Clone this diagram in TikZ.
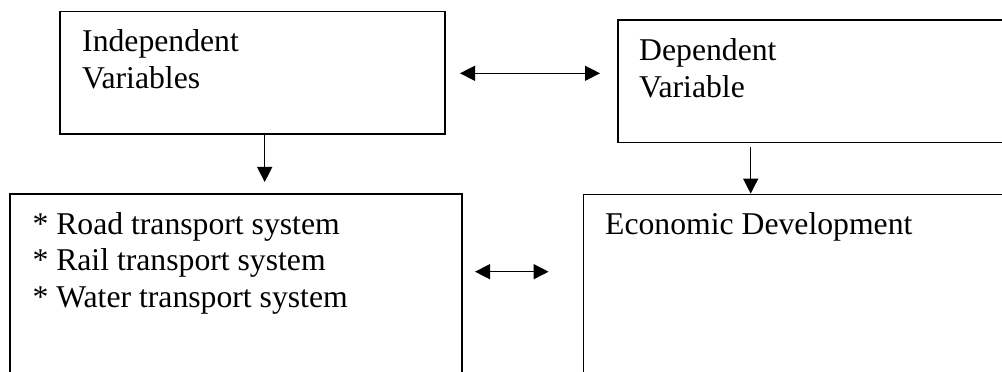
\documentclass[tikz,border=0pt]{standalone}
\usepackage{fontspec}
\setmainfont{Liberation Serif}
\usetikzlibrary{arrows.meta,calc}
\begin{document}
\begin{tikzpicture}[x=1pt,y=1pt,
  box/.style={draw=black,line width=1.4pt,inner sep=0pt,minimum width=#1},
  lbl/.style={inner sep=0pt,anchor=base west,font=\fontsize{31.7}{37}\selectfont},
  arr/.style={line width=1.4pt,-{Triangle[length=15pt,width=15pt]}},
  dbl/.style={line width=1.4pt,{Triangle[length=15pt,width=15pt]}-{Triangle[length=15pt,width=15pt]}}]
\useasboundingbox (0,0) rectangle (1002,372);
\clip (0,0) rectangle (1002,372);
% boxes
\node[box=385pt,minimum height=122.3pt] (A) at (252.5,299.15) {};
\node[box=432pt,minimum height=122.7pt] (B) at (834,290.65) {};
\node[box=452pt,minimum height=218pt] (C) at (236,69) {};
\node[box=466.7pt,minimum height=218pt] (D) at (816.65,68.7) {};
% texts
\node[lbl] (a1) at (82,320.3) {Independent};
\node[lbl] (a2) at (82,283.7) {Variables};
\node[lbl] (b1) at (639,311) {Dependent};
\node[lbl] (b2) at (639,274.3) {Variable};
\node[lbl] (c1) at (32.3,137.7) {* Road transport system};
\node[lbl] (c2) at (32.3,101.3) {* Rail transport system};
\node[lbl] (c3) at (32.3,64.7) {* Water transport system};
\node[lbl] (d1) at (605,137.7) {Economic Development};
% connectors
\draw[arr] ([xshift=12.2pt]A.south) -- ([xshift=28.7pt]C.north |- 0,190);
\draw[arr] ([xshift=-83.3pt,yshift=-4pt]B.south) -- (D.north -| 750.7,0);
\draw[dbl] ([xshift=14.3pt]A.east |- 0,298.7) -- ([xshift=-17.3pt]B.west |- 0,298.7);
\draw[dbl] ([xshift=12.3pt]C.east |- 0,100.3) -- ([xshift=-34pt]D.west |- 0,100.3);
\end{tikzpicture}
\end{document}
